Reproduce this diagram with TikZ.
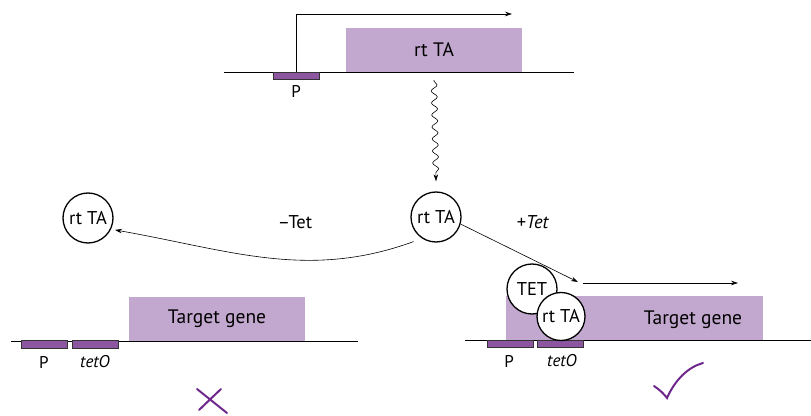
\documentclass[tikz,border=0pt]{standalone}
\usepackage{fontspec}
\setmainfont{PT Sans}
\usetikzlibrary{arrows.meta,decorations.pathmorphing,positioning}
\definecolor{genefill}{RGB}{194,168,206}
\definecolor{sitefill}{RGB}{140,86,160}
\definecolor{markpurple}{RGB}{110,40,140}

\begin{document}
\begin{tikzpicture}[x=1pt, y=1pt, >={Stealth[length=7pt,width=4.5pt]},
  gene/.style={fill=genefill, minimum height=44pt, inner sep=0pt,
               font=\fontsize{19.5}{22}\selectfont},
  site/.style={draw=black!80, fill=sitefill, line width=0.6pt,
               minimum width=46pt, minimum height=7.5pt, inner sep=0pt},
  protein/.style={circle, draw, line width=1.3pt, fill=white,
                  minimum size=50pt, inner sep=0pt,
                  font=\fontsize{18.5}{21}\selectfont},
  lab/.style={font=\fontsize{17}{20}\selectfont},
  dna/.style={line width=0.8pt},
  thin arrow/.style={->, line width=0.6pt}]

  \useasboundingbox (0,0) rectangle (811,415);

  % ============================================================
  % TOP: rtTA transgene
  % ============================================================
  \node[gene, minimum width=176pt] (rttop) at (434,365) {rt TA};
  \draw[dna] (224,343) -- (574,343);
  \node[site] (ptop) at (296,339) {};
  \node[lab] (ptoplab) at (296,324) {P};

  % Transcription start
  \coordinate (tsstop) at (512,401);
  \draw[thin arrow] (ptop.north) |- (tsstop);

  % Protein made
  \node[protein] (rtmid) at (436,198) {rt TA};
  \draw[->, line width=0.6pt, decorate,
        decoration={snake, amplitude=3pt, segment length=12pt,
                    pre length=1pt, post length=6pt}]
    ([yshift=-8pt]rttop.south) -- ([yshift=10pt]rtmid.north);

  % ============================================================
  % LEFT: without tetracycline
  % ============================================================
  \node[protein] (rtleft) at (88,197) {rt TA};
  \draw[thin arrow, shorten <=9pt, shorten >=4pt]
    (rtmid.237) to[out=200, in=-10] (rtleft.-26);
  \node[font=\fontsize{18.5}{21}\selectfont] (minustet) at (295,193) {--Tet};

  \node[gene, minimum width=176pt] (tgleft) at (217,96) {Target gene};
  \draw[dna] (11,74) -- (358,74);
  \node[site] (pleft) at (44,70.5) {};
  \node[site] (oleft) at (95,70.5) {};
  \node[lab] (pleftlab) at (44,53) {P};
  \node[lab, font=\fontsize{17}{20}\selectfont\itshape] (oleftlab) at (95,53) {tetO};

  % No expression
  \draw[markpurple, line width=2pt, line cap=round]
    (197,26) -- (227,2) (199,5) -- (221,26);

  % ============================================================
  % RIGHT: with tetracycline
  % ============================================================
  \node[font=\fontsize{18.5}{21}\selectfont] (plustet) at (533,193) {+\textit{Tet}};
  \coordinate (bindpt) at (578,133);
  \draw[thin arrow] (rtmid.-16) -- (bindpt);

  \node[gene, minimum width=257pt] (tgright) at (634.5,96.5) {};
  \node[font=\fontsize{19.5}{22}\selectfont] (tgrightlab) at (693,95) {Target gene};
  \draw[dna] (465,74.5) -- (811,74.5);
  \node[site] (pright) at (510,71) {};
  \node[site] (oright) at (560.5,71) {};
  \node[lab] (prightlab) at (509,54) {P};
  \node[lab, font=\fontsize{17}{20}\selectfont\itshape] (orightlab) at (562,54) {tetO};

  % Bound complex
  \node[protein] (tet) at (532,126) {TET};
  \node[protein, minimum size=48pt] (rtbound) at (561,98.5) {rt TA};

  % Transcription
  \coordinate (tssstart) at (583,132);
  \coordinate (tssend) at (738,132);
  \draw[thin arrow] (tssstart) -- (tssend);

  % Expression
  \draw[markpurple, line width=2pt, line cap=round]
    (654,29) .. controls (660,25) and (664,21) .. (667,17)
    .. controls (675,35) and (688,48) .. (703,52);

\end{tikzpicture}
\end{document}
